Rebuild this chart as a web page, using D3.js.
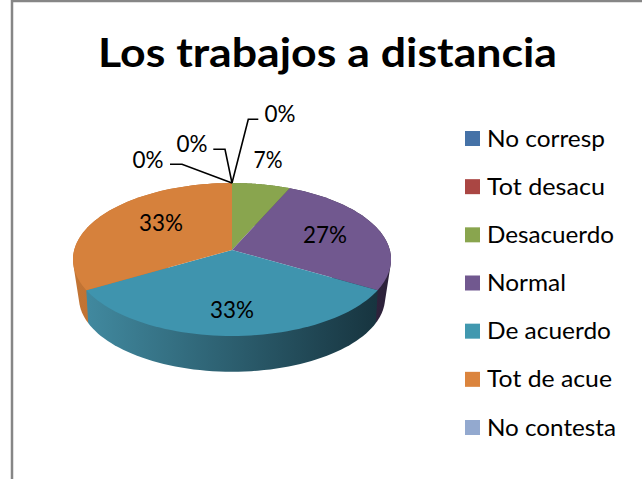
<!DOCTYPE html>
<html><head><meta charset="utf-8">
<script src="https://cdn.jsdelivr.net/npm/d3@7"></script>
<style>html,body{margin:0;padding:0;background:#fff;overflow:hidden}svg{display:block}text{font-family:Lato,sans-serif;fill:#000}</style>
</head><body><svg id="c" width="642" height="479"></svg>
<script>
const titleText = "Los trabajos a distancia";
const categories = ["No corresp","Tot desacu","Desacuerdo","Normal","De acuerdo","Tot de acue","No contesta"];
const counts = [0,0,2,8,10,10,0];
const colors = ["#4572a7","#aa4643","#89a54e","#71588f","#3f94ae","#d6813c","#93a9cf"];
const legendColors = ["#4572a7","#aa4643","#89a54e","#71588f","#4198af","#db843d","#93a9cf"];
const wallStart = ["#4572a7","#aa4643","#617a34","#3a2d4c","#41899f","#c27434","#93a9cf"];
const wallEnd   = ["#4572a7","#aa4643","#617a34","#2c2139","#17343f","#b76c2f","#93a9cf"];

const svg = d3.select("#c");
const defs = svg.append("defs");
const cx=232, cy=250;
function project(a,rx,ry,k,y0){ const u=Math.sin(a), v=Math.cos(a), w=1+k*v; return [cx+rx*u/w, y0-ry*v/w]; }
const topPt=a=>project(a,157.8,75.3,0.124,cy);
const botPt=a=>project(a,150.3,71.4,0.19,283.6);
const pct=d3.format(".0%"), total=d3.sum(counts);
const arcs=d3.pie().sort(null).value(d=>d)(counts);
const line=d3.line();
function samples(s,e){ return d3.range(0,61).map(i=>s+(e-s)*i/60); }

// frame
svg.append("rect").attr("x",12).attr("y",1).attr("width",640).attr("height",490).attr("fill","#fff").attr("stroke","#868686").attr("stroke-width",2.5);

// title
function fit(sel,w){ return sel.attr("textLength",w).attr("lengthAdjust","spacingAndGlyphs"); }
fit(svg.append("text").attr("x",98).attr("y",67).attr("font-size",41).attr("font-weight",700).text(titleText),459);

// walls, back to front
d3.sort(arcs.filter(d=>d.endAngle>d.startAngle),d=>-Math.cos((d.startAngle+d.endAngle)/2)).forEach(d=>{
  const i=d.index<0?0:arcs.indexOf(d);
  const id="w"+i, as=samples(d.startAngle,d.endAngle), xs=as.map(a=>topPt(a)[0]);
  const g=defs.append("linearGradient").attr("id",id).attr("gradientUnits","userSpaceOnUse")
    .attr("x1",d3.min(xs)).attr("x2",d3.max(xs)).attr("y1",0).attr("y2",0);
  g.append("stop").attr("offset",0).attr("stop-color",wallStart[i]);
  g.append("stop").attr("offset",1).attr("stop-color",wallEnd[i]);
  const hull=d3.polygonHull(as.map(topPt).concat(as.map(botPt)));
  svg.append("path").attr("d",line(hull)+"Z").attr("fill",`url(#${id})`);
});
// top surfaces
arcs.forEach((d,i)=>{
  if(d.endAngle-d.startAngle<=0) return;
  svg.append("path").attr("d",line([[cx,cy]].concat(samples(d.startAngle,d.endAngle).map(topPt)))+"Z").attr("fill",colors[i]);
});

// labels
const labelPos=[[148,160],[192,144],[268,160],[325,235],[232,310],[161,223],[280,114]];
const labelWidth=[31,31,29,44,44,44,31];
const leaders=[[[170,164.3],[182,164.3]],[[213.3,149.3],[225,149.3]],null,null,null,null,[[258.3,119.3],[248.3,119.3]]];
arcs.forEach((d,i)=>{
  if(leaders[i]){
    const anchor=topPt(d.startAngle);
    svg.append("path").attr("d",line(leaders[i].concat([anchor]))).attr("fill","none").attr("stroke","#000").attr("stroke-width",1.6);
  }
  fit(svg.append("text").attr("x",labelPos[i][0]-labelWidth[i]/2).attr("y",labelPos[i][1]+8).attr("font-size",23)
    .text(pct(counts[i]/total)),labelWidth[i]);
});

// legend
const ly=d3.scalePoint().domain(categories).range([138.5,427.5]);
const widths=[118,118,127,79,124,125,129];
categories.forEach((c,i)=>{
  svg.append("rect").attr("x",465).attr("y",ly(c)-7.5).attr("width",15).attr("height",15).attr("fill",legendColors[i]);
  fit(svg.append("text").attr("x",487).attr("y",ly(c)+8).attr("font-size",23).text(c),widths[i]);
});
</script></body></html>
